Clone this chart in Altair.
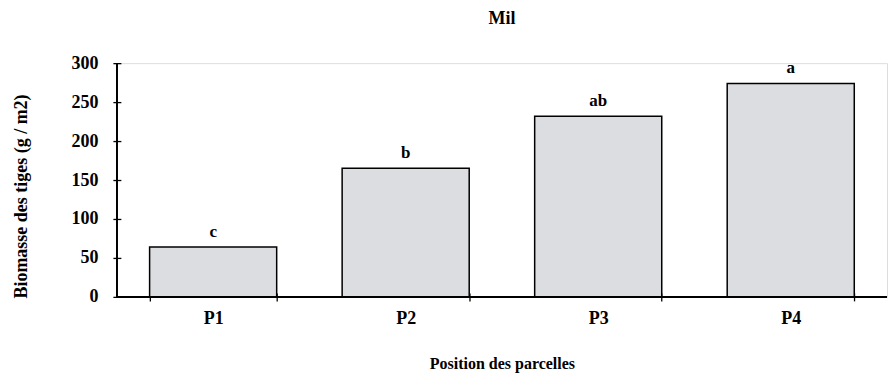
import altair as alt
import pandas as pd

categories = ["P1", "P2", "P3", "P4"]
values = [64, 165, 232, 274]
letters = ["c", "b", "ab", "a"]
y_ticks = [0, 50, 100, 150, 200, 250, 300]

df = pd.DataFrame({"cat": categories, "val": values, "lab": letters})

FONT = "Liberation Serif"

x_axis = alt.Axis(
    title="Position des parcelles",
    titleFont=FONT, titleFontSize=16, titleFontWeight="bold", titleColor="black",
    titlePadding=28,
    labelFont=FONT, labelFontSize=18, labelFontWeight="bold", labelColor="black",
    labelAngle=0, labelPadding=9,
    tickBand="extent", tickSize=8, tickColor="black", tickWidth=1.3,
    offset=-4, domain=False, grid=False,
)
y_axis = alt.Axis(
    title="Biomasse des tiges (g / m2)",
    titleFont=FONT, titleFontSize=18, titleFontWeight="bold", titleColor="black",
    titlePadding=40, titleY=133,
    labelFont=FONT, labelFontSize=18, labelFontWeight="bold", labelColor="black",
    labelPadding=15, values=y_ticks, labelOverlap=False,
    tickSize=8, tickColor="black", tickWidth=1.3,
    offset=-4, domain=False, grid=False,
)

x_scale = alt.Scale(paddingInner=0.34, paddingOuter=0.17)
y_scale = alt.Scale(domain=[0, 300])

x_enc = alt.X("cat:N", sort=categories, scale=x_scale, axis=x_axis)
y_enc = alt.Y("val:Q", scale=y_scale, axis=y_axis)

base = alt.Chart(df)

bars = base.mark_bar(fill="#dcdde0", stroke="black", strokeWidth=1.5).encode(x=x_enc, y=y_enc)

text = base.mark_text(
    font=FONT, fontSize=17, fontWeight="bold", color="black", dy=-10, baseline="alphabetic"
).encode(x=x_enc, y=y_enc, text="lab:N")

yline = base.mark_rule(color="black", strokeWidth=1.5).encode(
    x=alt.value(0),
    y=alt.Y(datum=0, scale=y_scale, axis=y_axis),
    y2=alt.Y2(datum=300),
)
xline = base.mark_rule(color="black", strokeWidth=1.5).encode(
    y=alt.Y(datum=0, scale=y_scale, axis=y_axis),
    x=alt.value(0),
    x2=alt.value(771),
)

chart = (
    alt.layer(bars, text, yline, xline)
    .properties(
        width=771,
        height=234,
        padding={"top": 2, "left": 5, "right": 0, "bottom": 5},
        title=alt.TitleParams(
            "Mil", font=FONT, fontSize=18, fontWeight="bold", color="black", offset=26
        ),
    )
    .configure_view(stroke=None)
    .configure(background="white")
)

chart.save("out.html", embed_options={"renderer": "svg", "actions": False})
